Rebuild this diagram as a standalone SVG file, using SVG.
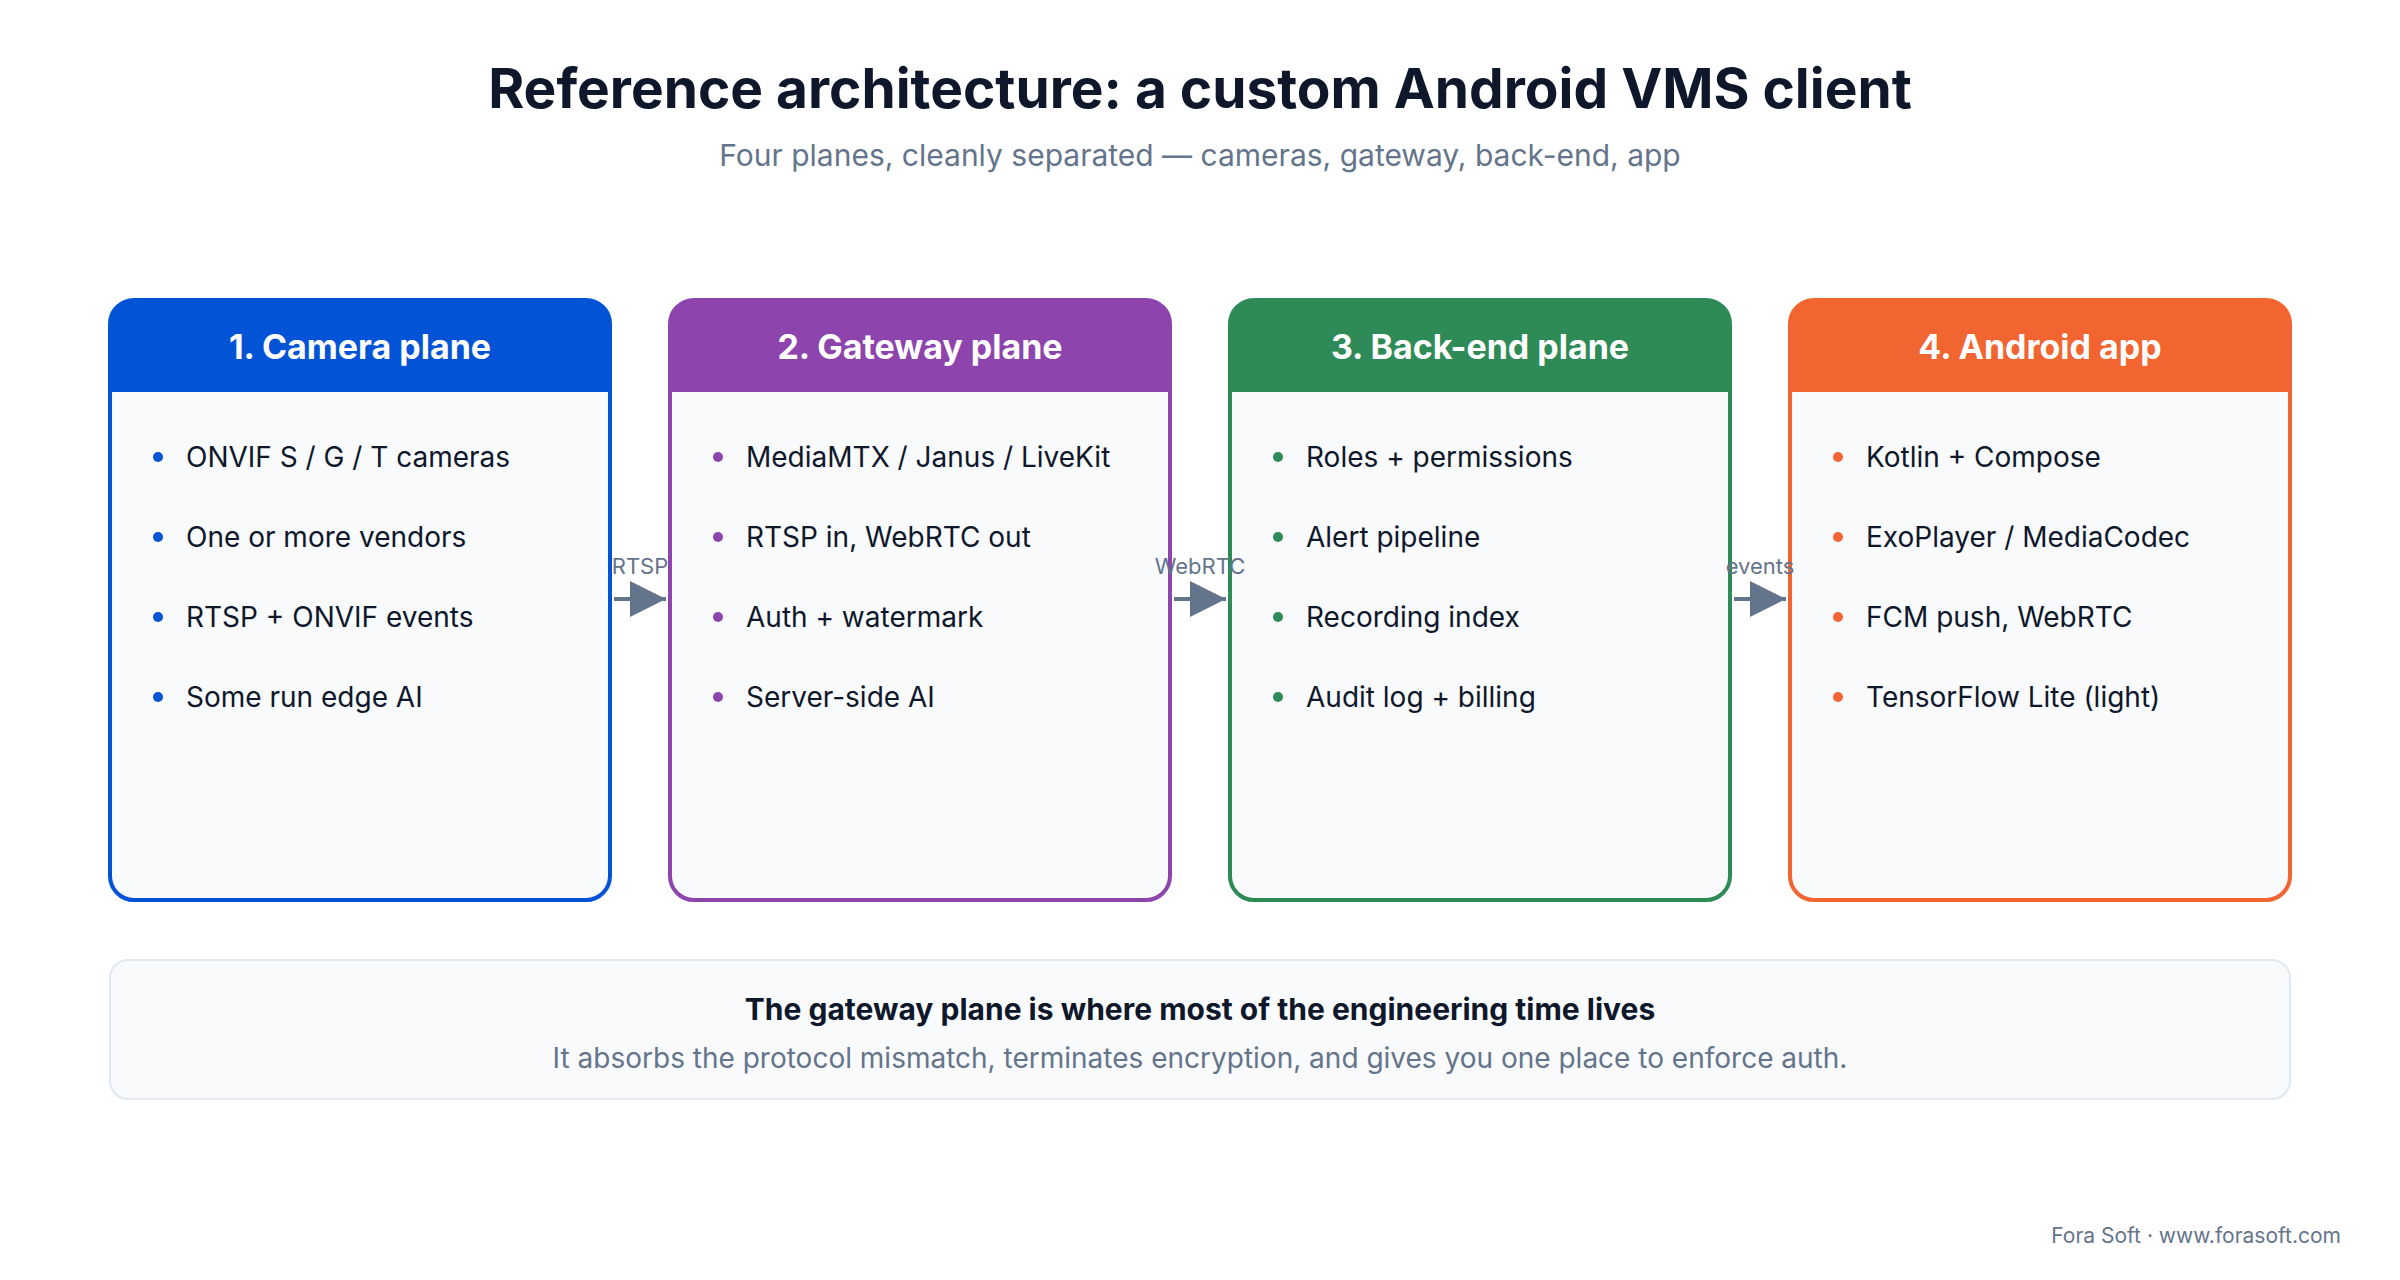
<svg xmlns="http://www.w3.org/2000/svg" width="2400" height="1280" viewBox="0 0 2400 1280">
<style>
text{font-family:Inter,"Liberation Sans",sans-serif}
.title{font-size:55px;font-weight:700;fill:#0f172a}
.sub{font-size:30px;fill:#64748b}
.hd{font-size:34px;font-weight:700;fill:#fff}
.it{font-size:28px;fill:#0f172a}
.lbl{font-size:22px;fill:#64748b}
.body{fill:#f8fafc;stroke-width:4}
</style>
<defs>
<marker id="ah" markerWidth="10" markerHeight="10" refX="9" refY="5" orient="auto" markerUnits="userSpaceOnUse" viewBox="0 0 10 10"><path d="M0,0L10,5L0,10z" fill="#64748b"/></marker>
<marker id="a" viewBox="0 0 10 10" refX="10" refY="5" markerWidth="36" markerHeight="36" markerUnits="userSpaceOnUse" orient="auto"><path d="M0,0L10,5L0,10z" fill="#64748b"/></marker>
</defs>
<rect width="2400" height="1280" fill="#fff"/>
<text class="title" x="1200" y="108" text-anchor="middle">Reference architecture: a custom Android VMS client</text>
<text class="sub" x="1200" y="166" text-anchor="middle">Four planes, cleanly separated — cameras, gateway, back-end, app</text>

<g id="camera">
<rect class="body" x="110" y="300" width="500" height="600" rx="24" stroke="#0353d6"/>
<path d="M110,392V324a24,24 0 0 1 24,-24H586a24,24 0 0 1 24,24V392z" fill="#0353d6"/>
<text class="hd" x="360" y="359" text-anchor="middle">1. Camera plane</text>
<g fill="#0353d6"><circle cx="158" cy="457" r="5"/><circle cx="158" cy="537" r="5"/><circle cx="158" cy="617" r="5"/><circle cx="158" cy="697" r="5"/></g>
<text class="it" x="186" y="467">ONVIF S / G / T cameras</text>
<text class="it" x="186" y="547">One or more vendors</text>
<text class="it" x="186" y="627">RTSP + ONVIF events</text>
<text class="it" x="186" y="707">Some run edge AI</text>
</g>
<g id="gateway">
<rect class="body" x="670" y="300" width="500" height="600" rx="24" stroke="#8e44ad"/>
<path d="M670,392V324a24,24 0 0 1 24,-24H1146a24,24 0 0 1 24,24V392z" fill="#8e44ad"/>
<text class="hd" x="920" y="359" text-anchor="middle">2. Gateway plane</text>
<g fill="#8e44ad"><circle cx="718" cy="457" r="5"/><circle cx="718" cy="537" r="5"/><circle cx="718" cy="617" r="5"/><circle cx="718" cy="697" r="5"/></g>
<text class="it" x="746" y="467">MediaMTX / Janus / LiveKit</text>
<text class="it" x="746" y="547">RTSP in, WebRTC out</text>
<text class="it" x="746" y="627">Auth + watermark</text>
<text class="it" x="746" y="707">Server-side AI</text>
</g>
<g id="backend">
<rect class="body" x="1230" y="300" width="500" height="600" rx="24" stroke="#2e8b57"/>
<path d="M1230,392V324a24,24 0 0 1 24,-24H1706a24,24 0 0 1 24,24V392z" fill="#2e8b57"/>
<text class="hd" x="1480" y="359" text-anchor="middle">3. Back-end plane</text>
<g fill="#2e8b57"><circle cx="1278" cy="457" r="5"/><circle cx="1278" cy="537" r="5"/><circle cx="1278" cy="617" r="5"/><circle cx="1278" cy="697" r="5"/></g>
<text class="it" x="1306" y="467">Roles + permissions</text>
<text class="it" x="1306" y="547">Alert pipeline</text>
<text class="it" x="1306" y="627">Recording index</text>
<text class="it" x="1306" y="707">Audit log + billing</text>
</g>
<g id="android">
<rect class="body" x="1790" y="300" width="500" height="600" rx="24" stroke="#f26430"/>
<path d="M1790,392V324a24,24 0 0 1 24,-24H2266a24,24 0 0 1 24,24V392z" fill="#f26430"/>
<text class="hd" x="2040" y="359" text-anchor="middle">4. Android app</text>
<g fill="#f26430"><circle cx="1838" cy="457" r="5"/><circle cx="1838" cy="537" r="5"/><circle cx="1838" cy="617" r="5"/><circle cx="1838" cy="697" r="5"/></g>
<text class="it" x="1866" y="467">Kotlin + Compose</text>
<text class="it" x="1866" y="547">ExoPlayer / MediaCodec</text>
<text class="it" x="1866" y="627">FCM push, WebRTC</text>
<text class="it" x="1866" y="707">TensorFlow Lite (light)</text>
</g>

<g id="connectors" stroke="#64748b" stroke-width="4" fill="none">
<line x1="614" y1="599" x2="666" y2="599" marker-end="url(#a)"/>
<line x1="1174" y1="599" x2="1226" y2="599" marker-end="url(#a)"/>
<line x1="1734" y1="599" x2="1786" y2="599" marker-end="url(#a)"/>
</g>
<g id="labels">
<text class="lbl" x="640" y="574" text-anchor="middle">RTSP</text>
<text class="lbl" x="1200" y="574" text-anchor="middle">WebRTC</text>
<text class="lbl" x="1760" y="574" text-anchor="middle">events</text>
</g>

<g id="note">
<rect x="110" y="960" width="2180" height="139" rx="18" fill="#f8fafc" stroke="#e2e8f0" stroke-width="2"/>
<text x="1200" y="1020" text-anchor="middle" font-size="30" font-weight="700" fill="#0f172a">The gateway plane is where most of the engineering time lives</text>
<text x="1200" y="1068" text-anchor="middle" font-size="28" fill="#64748b">It absorbs the protocol mismatch, terminates encryption, and gives you one place to enforce auth.</text>
</g>
<text x="2341" y="1243" text-anchor="end" font-size="21" fill="#64748b">Fora Soft · www.forasoft.com</text>
</svg>
